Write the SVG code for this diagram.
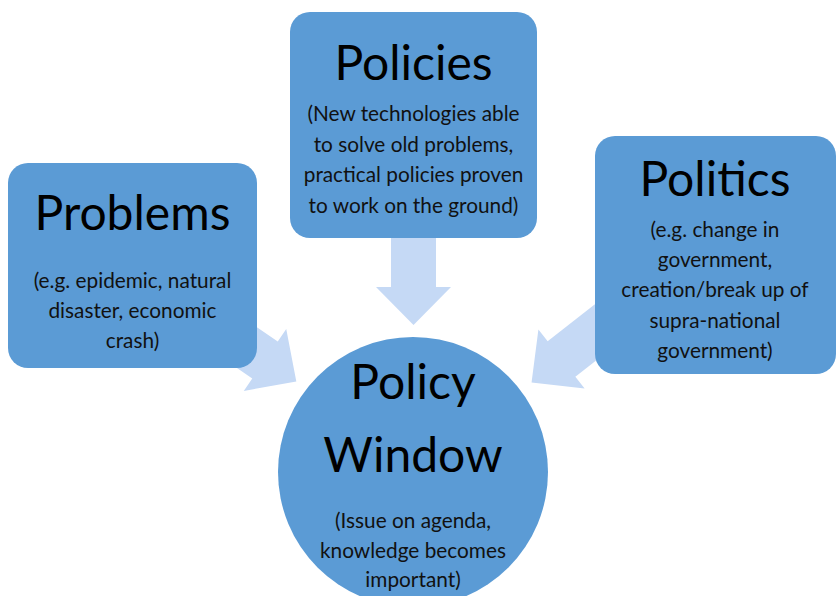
<svg xmlns="http://www.w3.org/2000/svg" width="837" height="596" viewBox="0 0 837 596">
  <defs>
    <style>
      .box { fill: #5b9bd5; }
      .arrow { fill: #c5d9f5; }
      .title { font-family: Lato, "Liberation Sans", sans-serif; font-size: 48px; fill: #000; text-anchor: middle; }
      .sub { font-family: Lato, "Liberation Sans", sans-serif; font-size: 20.8px; fill: #111; text-anchor: middle; }
    </style>
    <polygon id="arr" points="-75,-22.5 0,-22.5 0,-37.5 38,0 0,37.5 0,22.5 -75,22.5"/>
  </defs>
  <rect width="837" height="596" fill="#fff"/>
  <g id="connectors">
    <use href="#arr" class="arrow" transform="translate(413.5,287) rotate(90)"/>
    <use href="#arr" class="arrow" transform="translate(265,360) rotate(34.5)"/>
    <use href="#arr" class="arrow" transform="translate(561.5,359) rotate(142)"/>
  </g>
  <g id="problems">
    <rect class="box" x="8" y="163" width="249" height="205" rx="20"/>
    <text class="title" x="132.5" y="230">Problems</text>
    <text class="sub" x="132.5" y="288">(e.g. epidemic, natural</text>
    <text class="sub" x="132.5" y="318">disaster, economic</text>
    <text class="sub" x="132.5" y="348">crash)</text>
  </g>
  <g id="policies">
    <rect class="box" x="290" y="12" width="247" height="226" rx="20"/>
    <text class="title" x="413.5" y="80">Policies</text>
    <text class="sub" x="413.5" y="121">(New technologies able</text>
    <text class="sub" x="413.5" y="152">to solve old problems,</text>
    <text class="sub" x="413.5" y="182">practical policies proven</text>
    <text class="sub" x="413.5" y="213">to work on the ground)</text>
  </g>
  <g id="politics">
    <rect class="box" x="595" y="136" width="241" height="238" rx="20"/>
    <text class="title" x="715" y="196">Politics</text>
    <text class="sub" x="715" y="237">(e.g. change in</text>
    <text class="sub" x="715" y="267">government,</text>
    <text class="sub" x="715" y="297">creation/break up of</text>
    <text class="sub" x="715" y="328">supra-national</text>
    <text class="sub" x="715" y="358">government)</text>
  </g>
  <g id="policy-window">
    <circle class="box" cx="413" cy="472" r="135"/>
    <text class="title" x="413" y="399">Policy</text>
    <text class="title" x="413" y="472">Window</text>
    <text class="sub" x="413" y="528">(Issue on agenda,</text>
    <text class="sub" x="413" y="558">knowledge becomes</text>
    <text class="sub" x="413" y="587">important)</text>
  </g>
</svg>
